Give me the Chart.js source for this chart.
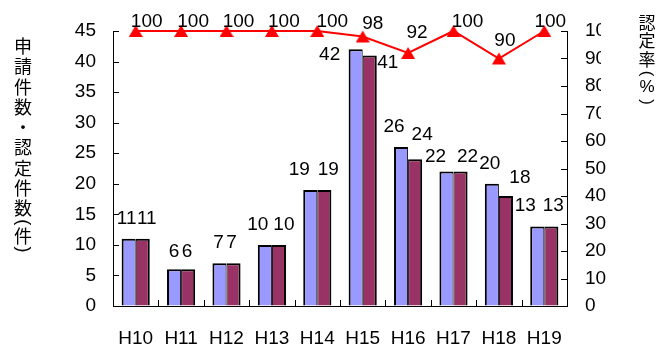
<!DOCTYPE html>
<html lang="ja">
<head>
<meta charset="utf-8">
<title>申請件数・認定件数と認定率</title>
<script src="https://cdn.jsdelivr.net/npm/chart.js@4.4.1/dist/chart.umd.min.js"></script>
<style>
  html, body { margin: 0; padding: 0; background: #ffffff; }
  #wrap { width: 656px; height: 349px; position: relative; }
</style>
</head>
<body>
<div id="wrap"><canvas id="chart" width="656" height="349"></canvas></div>
<script>
// Fiscal years (Heisei era)
const years = ['H10', 'H11', 'H12', 'H13', 'H14', 'H15', 'H16', 'H17', 'H18', 'H19'];
// Number of applications (件)
const applications = [11, 6, 7, 10, 19, 42, 26, 22, 20, 13];
// Number of certifications (件)
const certifications = [11, 6, 7, 10, 19, 41, 24, 22, 18, 13];
// Certification rate (%)
const certRate = [100, 100, 100, 100, 100, 98, 92, 100, 90, 100];

// Axis tick values
const countTicks = [0, 5, 10, 15, 20, 25, 30, 35, 40, 45];
const rateTicks = [0, 10, 20, 30, 40, 50, 60, 70, 80, 90, 100];

// Axis titles, written top to bottom
const countTitle = ['申', '請', '件', '数', '・', '認', '定', '件', '数', '(', '件', ')'];
const rateTitle = ['認', '定', '率', '(', '%', ')'];

// Hand-placed value-label nudges [dx, dy] from the bar centre / bar top
const appLabelNudge = [[-2, -20], [0, -18], [-1, -20], [-7, -20], [-11, -20], [-26, 5], [-7, -20], [-11, -15], [-2, -20], [-12, -21]];
const certLabelNudge = [[4, -20], [-1, -18], [-2, -20], [5, -20], [4, -20], [18, 7], [7, -25], [7, -15], [14, -18], [2, -21]];
// ...and from each rate point
const rateLabelNudge = [[11, -9], [12, -9], [12, -9], [12, -9], [15, -9], [10, -13], [9, -20], [14, -9], [6, -18], [6, -9]];

const FONT = '"Liberation Sans", Arial, sans-serif';
const CJK = '"Noto Sans CJK JP", "Noto Sans CJK SC", sans-serif';

// Red filled triangle marker, centred in its own box
function triangleMarker() {
  const c = document.createElement('canvas');
  c.width = 14; c.height = 14;
  const g = c.getContext('2d');
  g.fillStyle = '#FF0000';
  g.beginPath();
  g.moveTo(7, 1);
  g.lineTo(14, 13);
  g.lineTo(0, 13);
  g.closePath();
  g.fill();
  return c;
}

// Short tick marks drawn inside the plot frame
const innerTicks = {
  id: 'innerTicks',
  afterDraw(chart) {
    const { ctx, chartArea: a, scales } = chart;
    ctx.save();
    ctx.strokeStyle = '#000';
    ctx.lineWidth = 1;
    ctx.beginPath();
    scales.y.ticks.forEach(t => {
      const y = Math.round(scales.y.getPixelForValue(t.value)) + 0.5;
      ctx.moveTo(a.left, y); ctx.lineTo(a.left + 6, y);
    });
    scales.y1.ticks.forEach(t => {
      const y = Math.round(scales.y1.getPixelForValue(t.value)) + 0.5;
      ctx.moveTo(a.right, y); ctx.lineTo(a.right - 6, y);
    });
    for (let i = 1; i < years.length; i++) {
      const x = Math.round((scales.x.getPixelForValue(i - 1) + scales.x.getPixelForValue(i)) / 2) + 0.5;
      ctx.moveTo(x, a.bottom); ctx.lineTo(x, a.bottom - 6);
    }
    ctx.stroke();
    ctx.restore();
  }
};

// Value labels for bars and the rate line
const valueLabels = {
  id: 'valueLabels',
  afterDatasetsDraw(chart) {
    const { ctx } = chart;
    ctx.save();
    ctx.fillStyle = '#000';
    ctx.font = '19px ' + FONT;
    ctx.textAlign = 'center';
    ctx.textBaseline = 'middle';
    const sets = [
      [0, applications, appLabelNudge],
      [1, certifications, certLabelNudge],
      [2, certRate, rateLabelNudge]
    ];
    sets.forEach(([idx, values, nudge]) => {
      const meta = chart.getDatasetMeta(idx);
      meta.data.forEach((el, i) => {
        ctx.fillText(String(values[i]), el.x + nudge[i][0], el.y + nudge[i][1]);
      });
    });
    ctx.restore();
  }
};

// Vertical (top-to-bottom) axis titles; parentheses are turned sideways
function drawVertical(ctx, chars, cx, top, pitch, parenPitch, size) {
  let y = top;
  chars.forEach(ch => {
    const isParen = ch === '(' || ch === ')';
    const step = isParen ? parenPitch : pitch;
    const cy = y + step / 2;
    ctx.save();
    ctx.translate(cx, cy);
    if (isParen) {
      ctx.rotate(Math.PI / 2);
      ctx.font = size + 'px ' + FONT;
    } else if (ch === '%') {
      ctx.font = size + 'px ' + FONT;
    } else {
      ctx.font = size + 'px ' + CJK;
    }
    ctx.fillText(ch, 0, 0);
    ctx.restore();
    y += step;
  });
}

const axisTitles = {
  id: 'axisTitles',
  afterDraw(chart) {
    const { ctx } = chart;
    ctx.save();
    // the rate title sits in a white text box over the upper right labels
    ctx.fillStyle = '#ffffff';
    ctx.fillRect(601, 0, 55, 124);
    ctx.fillStyle = '#000';
    ctx.textAlign = 'center';
    ctx.textBaseline = 'middle';
    drawVertical(ctx, countTitle, 23, 36, 20.3, 7, 18);
    drawVertical(ctx, rateTitle, 647, 13, 18.5, 10, 17);
    ctx.restore();
  }
};

new Chart(document.getElementById('chart'), {
  data: {
    labels: years,
    datasets: [
      {
        type: 'bar',
        label: '申請件数',
        data: applications,
        yAxisID: 'y',
        backgroundColor: '#9999FF',
        borderColor: '#000000',
        borderWidth: { top: 2, left: 2, right: 1, bottom: 0 },
        borderSkipped: 'start',
        barPercentage: 1,
        categoryPercentage: 0.62,
        order: 2
      },
      {
        type: 'bar',
        label: '認定件数',
        data: certifications,
        yAxisID: 'y',
        backgroundColor: '#993366',
        borderColor: '#000000',
        borderWidth: { top: 2, left: 1, right: 2, bottom: 0 },
        borderSkipped: 'start',
        barPercentage: 1,
        categoryPercentage: 0.62,
        order: 2
      },
      {
        type: 'line',
        label: '認定率',
        data: certRate,
        yAxisID: 'y1',
        borderColor: '#FF0000',
        borderWidth: 2,
        pointStyle: triangleMarker(),
        pointRadius: 7,
        tension: 0,
        clip: false,
        order: 1
      }
    ]
  },
  options: {
    responsive: false,
    animation: false,
    events: [],
    layout: { padding: { top: 31, left: 0, right: 0, bottom: 0 } },
    plugins: {
      legend: { display: false },
      tooltip: { enabled: false }
    },
    scales: {
      x: {
        grid: { display: false, drawTicks: false },
        border: { display: true, color: '#000', width: 1 },
        ticks: { color: '#000', font: { family: FONT, size: 19 }, padding: 21, maxRotation: 0 },
        afterFit(scale) { scale.height = 43; }
      },
      y: {
        position: 'left',
        min: 0,
        max: 45,
        afterBuildTicks(scale) { scale.ticks = countTicks.map(v => ({ value: v })); },
        grid: { drawOnChartArea: false, drawTicks: false },
        border: { display: true, color: '#000', width: 1 },
        ticks: { color: '#000', font: { family: FONT, size: 19 }, padding: 17 },
        afterFit(scale) { scale.width = 113; }
      },
      y1: {
        position: 'right',
        min: 0,
        max: 100,
        afterBuildTicks(scale) { scale.ticks = rateTicks.map(v => ({ value: v })); },
        grid: { drawOnChartArea: false, drawTicks: false },
        border: { display: true, color: '#000', width: 1 },
        ticks: { color: '#000', font: { family: FONT, size: 19 }, padding: 18 },
        afterFit(scale) { scale.width = 89; }
      }
    }
  },
  plugins: [innerTicks, valueLabels, axisTitles]
});
</script>
</body>
</html>
